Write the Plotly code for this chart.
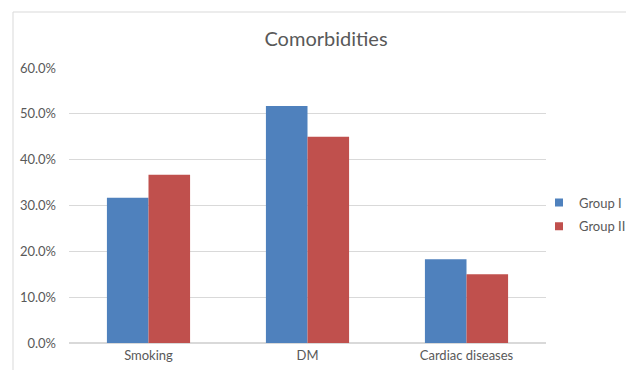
import plotly.graph_objects as go

categories = ["Smoking", "DM", "Cardiac diseases"]
group1 = [0.317, 0.517, 0.183]
group2 = [0.367, 0.450, 0.150]
series_names = ["Group I", "Group II"]
colors = ["#4F81BD", "#C0504D"]
tick_vals = [0, 0.1, 0.2, 0.3, 0.4, 0.5, 0.6]

FONT = "Lato, Open Sans, sans-serif"
W, H = 634, 370
OFF = 8  # page body margin offset
L, T, R, B = 69 - OFF, 68 - OFF, 546 - OFF, 343 - OFF

fig = go.Figure()
for name, vals, col in zip(series_names, [group1, group2], colors):
    fig.add_trace(go.Bar(x=categories, y=vals, name=name, marker_color=col,
                         marker_line_width=0, showlegend=False, legendgroup=name))
for name, col in zip(series_names, colors):
    fig.add_trace(go.Scatter(x=[None], y=[None], mode="markers", name=name, legendgroup=name,
                             marker=dict(symbol="square", size=8, color=col)))

pw, ph = R - L, B - T
fig.update_layout(
    width=W, height=H,
    paper_bgcolor="white", plot_bgcolor="white",
    barmode="group", bargap=0.477, bargroupgap=0,
    margin=dict(l=L, r=W - R, t=T, b=H - B, autoexpand=False),
    title=dict(text="Comorbidities", x=(326 - OFF) / W, xanchor="center", xref="container",
               y=1 - (38.5 - OFF) / H, yanchor="middle", yref="container",
               font=dict(family=FONT, size=20, color="#595959")),
    font=dict(family=FONT, size=13, color="#595959"),
    showlegend=True,
    legend=dict(x=(539 - OFF) / W, y=1 - (214.5 - OFF) / H, xanchor="left", yanchor="middle",
                xref="container", yref="container",
                font=dict(family=FONT, size=13, color="#595959"),
                itemwidth=30, tracegroupgap=4, bgcolor="rgba(0,0,0,0)"),
    xaxis=dict(showgrid=False, showline=True, linecolor="#D9D9D9", linewidth=1,
               ticks="", tickfont=dict(family=FONT, size=13, color="#595959")),
    yaxis=dict(range=[0, 0.6], tickvals=tick_vals, tickformat=".1%",
               showgrid=True, gridcolor="#D9D9D9", gridwidth=1,
               zeroline=True, zerolinecolor="#D9D9D9", showline=False, ticks="",
               ticklabelstandoff=12,
               tickfont=dict(family=FONT, size=13, color="#595959")),
    shapes=[dict(type="rect", xref="paper", yref="paper",
                 x0=(13 - OFF - L) / pw, x1=1.5, y0=-0.5, y1=(B - (12 - OFF)) / ph,
                 line=dict(color="#D9D9D9", width=1), fillcolor="rgba(0,0,0,0)", layer="below")],
)

fig.write_html("out.html")
